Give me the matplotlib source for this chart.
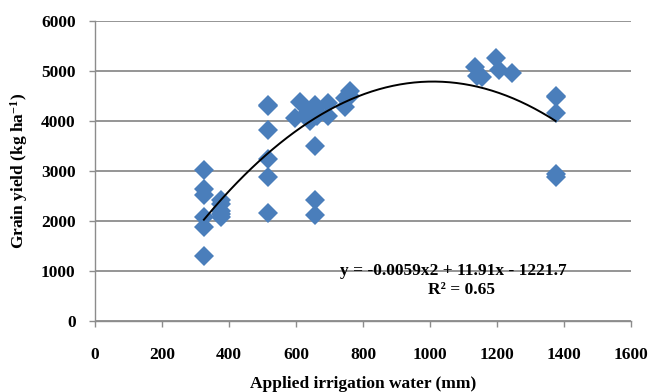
import numpy as np
import matplotlib
matplotlib.use("Agg")
import matplotlib.pyplot as plt

# Data
water = [325, 325, 325, 325, 325, 325,
         375, 375, 375, 375, 375,
         515, 515, 515, 515, 515, 515,
         597, 612, 637, 642, 657, 657, 662, 662, 697, 697, 657, 657, 657,
         745, 745, 760, 760,
         1135, 1140, 1155, 1197, 1207, 1245,
         1375, 1375, 1375, 1375, 1375]
yield_ = [3020, 2650, 2530, 2080, 1890, 1300,
          2430, 2350, 2200, 2150, 2090,
          4330, 4300, 3830, 3250, 2880, 2160,
          4060, 4390, 4180, 4000, 4320, 4240, 4190, 4100, 4370, 4110, 3510, 2430, 2130,
          4290, 4470, 4600, 4500,
          5090, 4910, 4880, 5260, 5030, 4970,
          4500, 4480, 4160, 2950, 2890]

coef = [-0.0059, 11.91, -1221.7]
x_ticks = [0, 200, 400, 600, 800, 1000, 1200, 1400, 1600]
y_ticks = [0, 1000, 2000, 3000, 4000, 5000, 6000]

plt.rcParams['font.family'] = ['Liberation Serif', 'DejaVu Serif']
plt.rcParams['font.weight'] = 'bold'
plt.rcParams['mathtext.fontset'] = 'custom'
plt.rcParams['mathtext.rm'] = 'Liberation Serif:bold'
plt.rcParams['mathtext.bf'] = 'Liberation Serif:bold'
plt.rcParams['mathtext.default'] = 'bf'

fig = plt.figure(figsize=(6.49, 3.92), dpi=100)
ax = fig.add_axes([95/649, 1-321/392, (631-95)/649, (321-21)/392])

grid_c = '#8c8c8c'
ax.set_xlim(0, 1600)
ax.set_ylim(0, 6000)
ax.set_xticks(x_ticks)
ax.set_yticks(y_ticks)
ax.yaxis.grid(True, color=grid_c, linewidth=1.3)
ax.set_axisbelow(True)
for s in ['top', 'right']:
    ax.spines[s].set_visible(False)
for s in ['left', 'bottom']:
    ax.spines[s].set_color(grid_c)
    ax.spines[s].set_linewidth(1.0)
ax.tick_params(axis='both', colors=grid_c, length=4, width=1.0, direction='out')
ax.tick_params(axis='x', pad=15, labelcolor='black', labelsize=12.5)
ax.tick_params(axis='y', pad=10, labelcolor='black', labelsize=12.5)
for lab in ax.get_xticklabels() + ax.get_yticklabels():
    lab.set_fontweight('bold')

ax.plot(water, yield_, linestyle='none', marker='D', markersize=10,
        color='#4A7EBB', markeredgewidth=0, zorder=3)

xs = np.linspace(min(water), max(water), 200)
ax.plot(xs, np.polyval(coef, xs), color='black', linewidth=1.4, zorder=4)

ax.text(1070, 1000, 'y = -0.0059x2 + 11.91x - 1221.7', ha='center', va='center',
        fontsize=12.5, fontweight='bold', zorder=5)
ax.text(1095, 620, 'R² = 0.65', ha='center', va='center',
        fontsize=12.5, fontweight='bold', zorder=5)

ax.set_xlabel('Applied irrigation water (mm)', fontsize=12.5, fontweight='bold', labelpad=9)
ax.set_ylabel('Grain yield (kg ha$^{-1}$)', fontsize=12.5, fontweight='bold', labelpad=8)

fig.savefig('out.png', dpi=100)
